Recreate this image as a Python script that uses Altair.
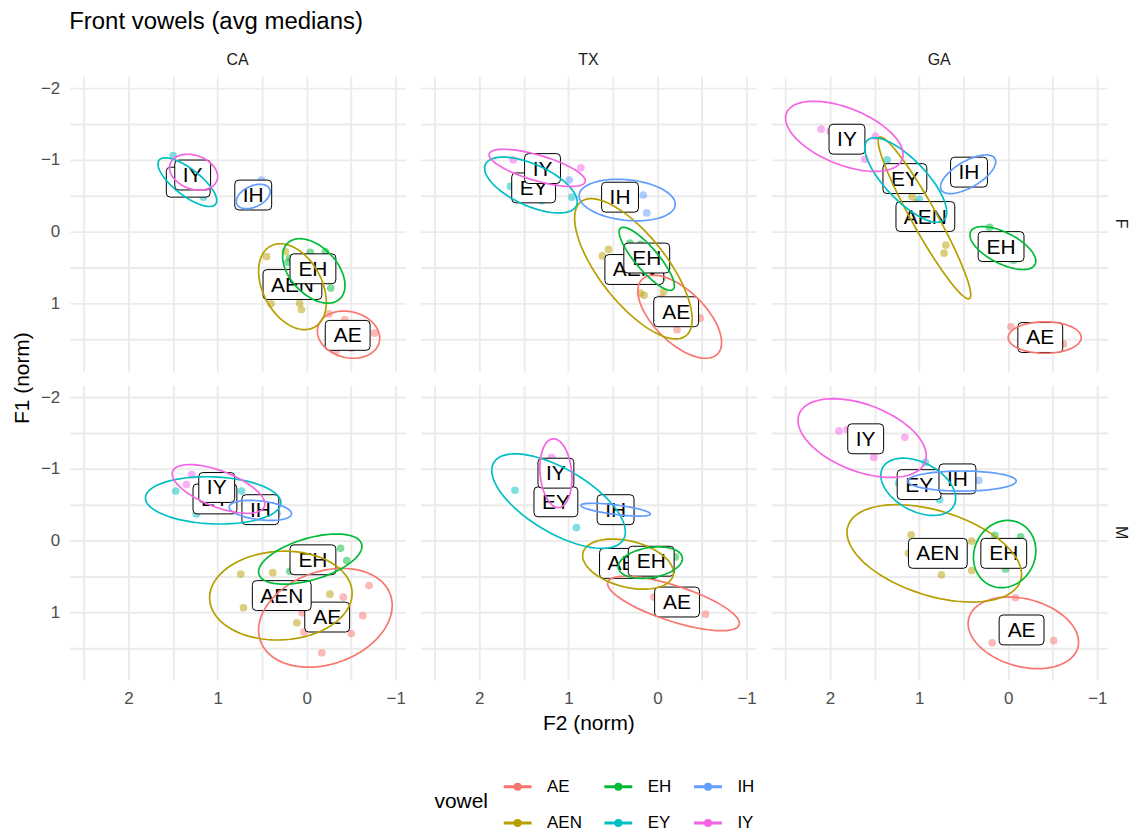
import altair as alt
import numpy as np
import pandas as pd

FONT = "Liberation Sans"

STATES = ["CA", "TX", "GA"]
SEXES = ["F", "M"]
VOWELS = ["AE", "AEN", "EH", "EY", "IH", "IY"]
VOWEL_COLORS = ["#F8766D", "#B79F00", "#00BA38", "#00BFC4", "#619CFF", "#F564E3"]
# legend is filled row by row in three columns
LEGEND_ORDER = ["AE", "EH", "IH", "AEN", "EY", "IY"]

# per-speaker medians, (F2, F1) in normalised units
POINTS_CA_F = {
    "AE": [(-0.25, 1.15), (-0.43, 1.23), (-0.76, 1.42), (-0.33, 1.67), (-0.50, 1.63)],
    "AEN": [(0.45, 0.35), (0.24, 0.28), (0.08, 1.00), (0.06, 1.09), (0.40, 1.01)],
    "EH": [(-0.04, 0.29), (-0.21, 0.28), (0.19, 0.37), (0.21, 0.43), (-0.27, 0.79), (-0.12, 0.72)],
    "EY": [(1.50, -1.06), (1.16, -0.48), (1.39, -0.61), (1.28, -0.58)],
    "IH": [(0.51, -0.72), (0.67, -0.40), (0.63, -0.42)],
    "IY": [(1.40, -0.88), (1.20, -0.91), (1.33, -0.70), (1.19, -0.66)],
}
POINTS_TX_F = {
    "AE": [(-0.22, 1.37), (-0.48, 1.21), (-0.05, 0.93), (-0.11, 1.00)],
    "AEN": [(0.55, 0.25), (0.62, 0.34), (0.19, 0.86), (0.15, 0.89), (-0.07, 0.84)],
    "EH": [(0.31, 0.16), (0.19, 0.18), (0.01, 0.48), (-0.05, 0.65)],
    "EY": [(1.65, -0.63), (0.96, -0.48), (1.30, -0.43), (1.52, -0.67)],
    "IH": [(0.99, -0.72), (0.16, -0.51), (0.12, -0.26)],
    "IY": [(1.62, -1.00), (0.86, -0.89), (1.40, -0.86), (1.28, -0.79)],
}
POINTS_GA_F = {
    "AE": [(-0.03, 1.33), (-0.40, 1.51), (-0.62, 1.57)],
    "AEN": [(1.08, -0.49), (0.70, 0.19), (0.72, 0.30), (1.34, -0.86), (1.04, -0.40)],
    "EH": [(0.21, -0.06), (0.05, 0.26), (-0.06, 0.40)],
    "EY": [(1.36, -1.00), (1.00, -0.45), (1.23, -0.81), (1.11, -0.68)],
    "IH": [(0.52, -0.91), (0.33, -0.77), (0.46, -0.80)],
    "IY": [(2.10, -1.43), (1.49, -1.33), (1.61, -1.01), (2.00, -1.40)],
}
POINTS_CA_M = {
    "AE": [(-0.70, 0.63), (-0.41, 0.79), (-0.63, 1.05), (-0.50, 1.30), (-0.17, 1.57), (0.05, 1.01), (0.03, 1.28)],
    "AEN": [(0.74, 0.47), (0.38, 0.45), (0.71, 0.94), (-0.26, 0.75), (0.11, 1.15), (0.08, 0.84)],
    "EH": [(-0.38, 0.11), (-0.45, 0.28), (0.19, 0.43), (0.08, 0.36), (-0.14, 0.28)],
    "EY": [(1.47, -0.69), (0.73, -0.69), (1.24, -0.37), (0.98, -0.56)],
    "IH": [(0.33, -0.38), (0.64, -0.49), (0.57, -0.42)],
    "IY": [(1.29, -0.92), (1.35, -0.78), (0.86, -0.70), (0.58, -0.60)],
}
POINTS_TX_M = {
    "AE": [(0.04, 0.79), (-0.54, 1.03), (-0.16, 0.77)],
    "AEN": [(0.55, 0.21), (0.20, 0.42), (0.30, 0.35)],
    "EH": [(-0.20, 0.23), (0.36, 0.35), (0.08, 0.28)],
    "EY": [(1.60, -0.70), (0.91, -0.18), (1.07, -0.63)],
    "IH": [(0.62, -0.46), (0.29, -0.39), (0.49, -0.43)],
    "IY": [(1.19, -1.16), (1.13, -0.87), (1.11, -0.78)],
}
POINTS_GA_M = {
    "AE": [(-0.08, 0.80), (0.18, 1.43), (-0.51, 1.40)],
    "AEN": [(1.09, -0.08), (0.41, 0.01), (0.41, 0.42), (0.75, 0.48), (1.12, 0.18)],
    "EH": [(0.15, -0.07), (0.03, 0.40), (-0.14, -0.05)],
    "EY": [(0.93, -1.09), (0.77, -0.57), (1.23, -0.80)],
    "IH": [(0.33, -0.84), (0.78, -0.87), (0.59, -0.88)],
    "IY": [(1.90, -1.53), (1.16, -1.44), (1.51, -1.16), (1.81, -1.55)],
}

# group means, where each vowel label sits
LABELS_CA_F = {"AE": (-0.46, 1.45), "AEN": (0.16, 0.74), "EH": (-0.07, 0.52),
               "EY": (1.33, -0.69), "IH": (0.60, -0.51), "IY": (1.28, -0.79)}
LABELS_TX_F = {"AE": (-0.21, 1.12), "AEN": (0.26, 0.53), "EH": (0.12, 0.37),
               "EY": (1.39, -0.61), "IH": (0.42, -0.48), "IY": (1.29, -0.88)}
LABELS_GA_F = {"AE": (-0.36, 1.48), "AEN": (0.93, -0.21), "EH": (0.08, 0.21),
               "EY": (1.16, -0.74), "IH": (0.44, -0.83), "IY": (1.81, -1.29)}
LABELS_CA_M = {"AE": (-0.23, 1.07), "AEN": (0.28, 0.77), "EH": (-0.07, 0.27),
               "EY": (1.03, -0.58), "IH": (0.52, -0.43), "IY": (1.01, -0.74)}
LABELS_TX_M = {"AE": (-0.22, 0.86), "AEN": (0.32, 0.32), "EH": (0.07, 0.29),
               "EY": (1.14, -0.54), "IH": (0.47, -0.43), "IY": (1.14, -0.94)}
LABELS_GA_M = {"AE": (-0.15, 1.25), "AEN": (0.79, 0.18), "EH": (0.05, 0.18),
               "EY": (1.00, -0.78), "IH": (0.57, -0.86), "IY": (1.60, -1.42)}

# 95% ellipses: centre F2, centre F1, half-width F2, half-height F1, correlation
ELLIPSES_CA_F = {"AE": (-0.47, 1.44, 0.35, 0.33, -0.15), "AEN": (0.16, 0.77, 0.38, 0.60, -0.36),
                 "EH": (-0.08, 0.55, 0.35, 0.45, -0.45), "EY": (1.34, -0.69, 0.33, 0.34, -0.75),
                 "IH": (0.60, -0.49, 0.19, 0.17, 0.40), "IY": (1.27, -0.83, 0.27, 0.25, -0.25)}
ELLIPSES_TX_F = {"AE": (-0.25, 1.19, 0.47, 0.58, -0.62), "AEN": (0.27, 0.52, 0.66, 0.98, -0.72),
                 "EH": (0.12, 0.38, 0.31, 0.44, -0.85), "EY": (1.42, -0.65, 0.52, 0.39, -0.60),
                 "IH": (0.34, -0.44, 0.54, 0.29, -0.20), "IY": (1.35, -0.89, 0.54, 0.26, -0.70)}
ELLIPSES_GA_F = {"AE": (-0.41, 1.48, 0.41, 0.22, 0.00), "AEN": (0.94, -0.19, 0.52, 1.13, -0.95),
                 "EH": (0.06, 0.23, 0.37, 0.30, -0.61), "EY": (1.15, -0.72, 0.46, 0.59, -0.76),
                 "IH": (0.45, -0.80, 0.31, 0.27, 0.65), "IY": (1.84, -1.33, 0.66, 0.49, -0.52)}
ELLIPSES_CA_M = {"AE": (-0.21, 1.08, 0.75, 0.69, 0.25), "AEN": (0.29, 0.77, 0.80, 0.62, 0.05),
                 "EH": (-0.04, 0.26, 0.58, 0.35, 0.51), "EY": (1.05, -0.56, 0.76, 0.33, -0.10),
                 "IH": (0.52, -0.42, 0.35, 0.14, -0.33), "IY": (0.99, -0.72, 0.52, 0.34, -0.62)}
ELLIPSES_TX_M = {"AE": (-0.18, 0.88, 0.74, 0.38, -0.73), "AEN": (0.33, 0.33, 0.51, 0.35, -0.34),
                 "EH": (0.08, 0.31, 0.36, 0.22, 0.26), "EY": (1.11, -0.55, 0.75, 0.66, -0.65),
                 "IH": (0.47, -0.43, 0.39, 0.09, -0.67), "IY": (1.14, -0.94, 0.18, 0.48, -0.15)}
ELLIPSES_GA_M = {"AE": (-0.17, 1.29, 0.62, 0.50, -0.26), "AEN": (0.83, 0.18, 0.98, 0.68, -0.43),
                 "EH": (0.04, 0.19, 0.35, 0.47, 0.10), "EY": (1.01, -0.75, 0.42, 0.40, -0.40),
                 "IH": (0.52, -0.83, 0.61, 0.14, 0.00), "IY": (1.64, -1.43, 0.72, 0.55, -0.45)}

PANELS = {
    ("CA", "F"): (POINTS_CA_F, LABELS_CA_F, ELLIPSES_CA_F),
    ("TX", "F"): (POINTS_TX_F, LABELS_TX_F, ELLIPSES_TX_F),
    ("GA", "F"): (POINTS_GA_F, LABELS_GA_F, ELLIPSES_GA_F),
    ("CA", "M"): (POINTS_CA_M, LABELS_CA_M, ELLIPSES_CA_M),
    ("TX", "M"): (POINTS_TX_M, LABELS_TX_M, ELLIPSES_TX_M),
    ("GA", "M"): (POINTS_GA_M, LABELS_GA_M, ELLIPSES_GA_M),
}

# label box widths in pixels (text width plus padding)
BOX_WIDTH = {"AE": 45, "AEN": 59, "EH": 46, "EY": 44, "IH": 37, "IY": 36}
BOX_HEIGHT = 30
BOX_RADIUS = 4

rows = []
t = np.linspace(0, 2 * np.pi, 97)
for (state, sex), (pts, labs, ells) in PANELS.items():
    for v in VOWELS:
        for f2, f1 in pts[v]:
            rows.append(dict(state=state, sex=sex, vowel=v, kind="pt", F2=f2, F1=f1, seq=0))
        lx, ly = labs[v]
        rows.append(dict(state=state, sex=sex, vowel=v, kind="lab", F2=lx, F1=ly, seq=0))
        cx, cy, sx, sy, r = ells[v]
        ex = cx + sx * np.cos(t)
        ey = cy + sy * (r * np.cos(t) + np.sqrt(1 - r * r) * np.sin(t))
        for i, (a, b) in enumerate(zip(ex, ey)):
            rows.append(dict(state=state, sex=sex, vowel=v, kind="ell", F2=a, F1=b, seq=i))
df = pd.DataFrame(rows)


def box_path(w, h, rad):
    # rounded rectangle in symbol units, x spanning [-1, 1]
    hx, hy, c = 1.0, h / w, 2.0 * rad / w
    return (f"M{-hx + c},{-hy}L{hx - c},{-hy}Q{hx},{-hy},{hx},{-hy + c}"
            f"L{hx},{hy - c}Q{hx},{hy},{hx - c},{hy}L{-hx + c},{hy}"
            f"Q{-hx},{hy},{-hx},{hy - c}L{-hx},{-hy + c}Q{-hx},{-hy},{-hx + c},{-hy}Z")


grid_vals_x = [2.5, 2, 1.5, 1, 0.5, 0, -0.5, -1]
grid_vals_y = [-2, -1.5, -1, -0.5, 0, 0.5, 1, 1.5]
int_labels = "datum.value % 1 === 0 ? format(datum.value, 'd') : ''"

x_enc = alt.X(
    "F2:Q",
    scale=alt.Scale(domain=[-1.11, 2.66], reverse=True, nice=False, zero=False),
    axis=alt.Axis(values=grid_vals_x, labelExpr=int_labels, title=None,
                  grid=True, gridColor="#EBEBEB", gridWidth=1.9, ticks=False, domain=False,
                  labelFont=FONT, labelFontSize=17, labelColor="#4D4D4D", labelPadding=11),
)
y_enc = alt.Y(
    "F1:Q",
    scale=alt.Scale(domain=[-2.17, 1.95], reverse=True, nice=False, zero=False),
    axis=alt.Axis(values=grid_vals_y, labelExpr=int_labels, title=None,
                  grid=True, gridColor="#EBEBEB", gridWidth=1.9, ticks=False, domain=False,
                  labelFont=FONT, labelFontSize=17, labelColor="#4D4D4D", labelPadding=10),
)

legend_symbol = "M-1,0L1,0M0.18,0A0.18,0.18,0,1,1,-0.18,0A0.18,0.18,0,1,1,0.18,0Z"
vowel_scale = alt.Scale(domain=LEGEND_ORDER,
                        range=[VOWEL_COLORS[VOWELS.index(v)] for v in LEGEND_ORDER])
vowel_legend = alt.Legend(
    title="vowel", orient="none", legendX=366, legendY=697, direction="horizontal", columns=3,
    titleOrient="left", titleFont=FONT, titleFontSize=21, titleFontWeight="normal",
    titleColor="#000000", titlePadding=14, titleAnchor="middle", titleBaseline="middle",
    labelFont=FONT, labelFontSize=17, labelColor="#000000", labelOffset=14,
    symbolType=legend_symbol, symbolSize=784, symbolStrokeWidth=3,
    symbolStrokeColor="#000000", symbolFillColor="#000000", symbolOpacity=1,
    columnPadding=16, rowPadding=12,
)
fill_enc = alt.Fill("vowel:N", scale=vowel_scale, legend=vowel_legend)
stroke_enc = alt.Stroke("vowel:N", scale=vowel_scale, legend=vowel_legend)

base = alt.Chart()

points = base.mark_circle(size=60, opacity=0.5).encode(
    x=x_enc, y=y_enc, fill=fill_enc
).transform_filter(alt.datum.kind == "pt")

ellipses = base.mark_line(strokeWidth=1.7).encode(
    x=x_enc, y=y_enc, stroke=stroke_enc, detail="vowel:N", order="seq:Q"
).transform_filter(alt.datum.kind == "ell")

label_layers = []
for v in VOWELS:
    sel = (alt.datum.kind == "lab") & (alt.datum.vowel == v)
    w = BOX_WIDTH[v]
    box = base.mark_point(
        shape=box_path(w, BOX_HEIGHT, BOX_RADIUS), size=w * w, filled=True,
        fill="white", stroke="black", strokeWidth=1, opacity=1,
    ).encode(x=x_enc, y=y_enc).transform_filter(sel)
    txt = base.mark_text(
        font=FONT, fontSize=21, color="black", baseline="middle", align="center", dy=1,
    ).encode(x=x_enc, y=y_enc, text="vowel:N").transform_filter(sel)
    label_layers += [box, txt]

panel = alt.layer(points, *label_layers, ellipses).properties(width=337, height=296)

chart = panel.facet(
    data=df,
    column=alt.Column("state:N", sort=STATES, title="F2 (norm)",
                      header=alt.Header(labelOrient="top", labelFont=FONT, labelFontSize=16,
                                        labelColor="#1A1A1A", labelPadding=8,
                                        titleOrient="bottom", titleFont=FONT, titleFontSize=21,
                                        titleFontWeight="normal", titleColor="#000000",
                                        titlePadding=-4)),
    row=alt.Row("sex:N", sort=SEXES, title="F1 (norm)",
                header=alt.Header(labelOrient="right", labelAngle=90, labelFont=FONT,
                                  labelFontSize=16, labelColor="#1A1A1A", labelPadding=6,
                                  titleOrient="left", titleFont=FONT, titleFontSize=21,
                                  titleFontWeight="normal", titleColor="#000000",
                                  titlePadding=-3.5)),
    spacing={"row": 14, "column": 15},
).properties(
    title=alt.TitleParams("Front vowels (avg medians)", anchor="start", font=FONT,
                          fontSize=24, fontWeight="normal", color="#000000", offset=18, dx=57),
    padding={"left": 12, "top": 9, "right": 0, "bottom": 0},
).configure(background="white", view=alt.ViewConfig(stroke=None))

chart.save("out.html", embed_options={"renderer": "svg", "actions": False})
